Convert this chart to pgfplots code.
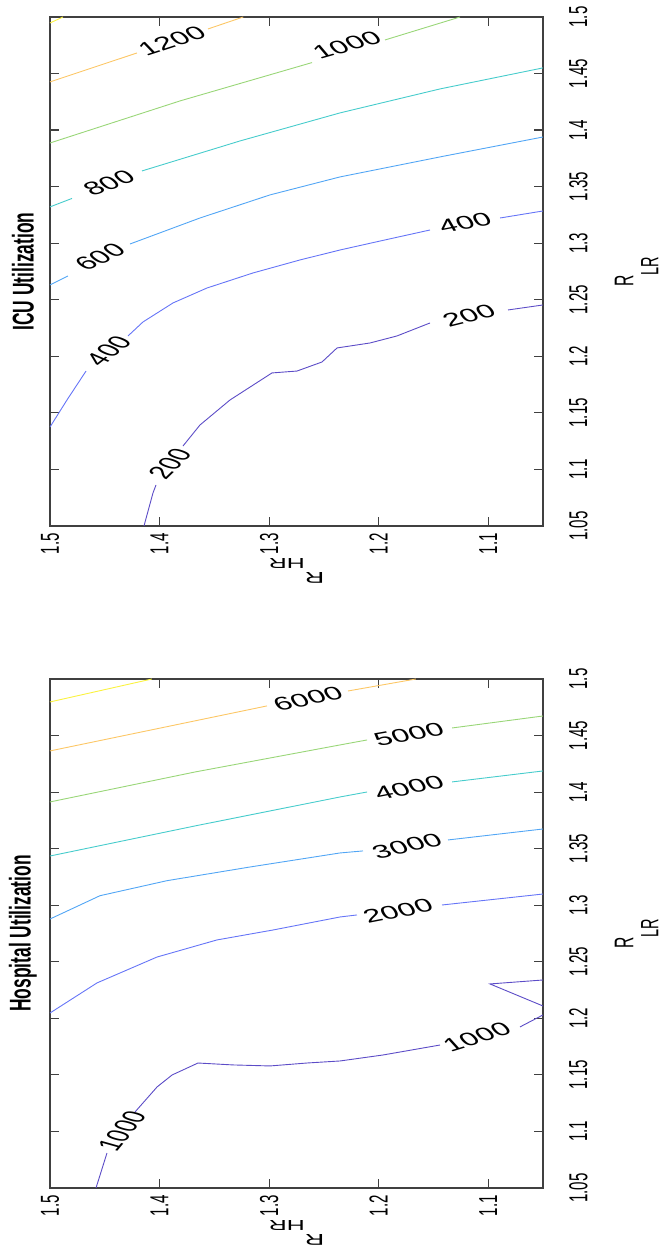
\documentclass[border=0pt]{standalone}
\usepackage{pgfplots}
\pgfplotsset{compat=1.18}
\usepackage{fontspec}
\setmainfont{Liberation Sans}
\definecolor{axc}{rgb}{0.25,0.25,0.25}
\definecolor{c1}{rgb}{0.36,0.30,0.78}
\definecolor{c2}{rgb}{0.40,0.46,0.97}
\definecolor{c3}{rgb}{0.32,0.65,0.96}
\definecolor{c4}{rgb}{0.28,0.80,0.80}
\definecolor{c5}{rgb}{0.60,0.84,0.47}
\definecolor{c6}{rgb}{0.99,0.78,0.40}
\definecolor{c7}{rgb}{0.98,0.95,0.25}
\newcommand{\tickfont}{\fontsize{26}{26}\selectfont}
\newcommand{\labfont}{\fontsize{27}{27}\selectfont}
\newcommand{\titfont}{\fontsize{30}{30}\selectfont\bfseries}
\tikzset{clab/.style={font=\fontsize{32}{32}\selectfont, inner sep=0pt, /tikz/yscale=0.58, /tikz/rotate=#1}}
\pgfplotsset{
  myax/.style={
    scale only axis, width=493pt, height=509pt,
    xmin=1.05, xmax=1.5, ymin=1.05, ymax=1.5, x dir=reverse,
    xtick={1.1,1.2,1.3,1.4,1.5}, xticklabels={1.1,1.2,1.3,1.4,1.5},
    ytick={1.05,1.1,1.15,1.2,1.25,1.3,1.35,1.4,1.45,1.5},
    yticklabels={1.05,1.1,1.15,1.2,1.25,1.3,1.35,1.4,1.45,1.5},
    yticklabel pos=right,
    tick align=inside, major tick length=9pt,
    tick style={line width=1.2pt, color=axc},
    axis line style={line width=1.6pt, color=axc},
    xticklabel style={font=\tickfont, /tikz/yshift=-7pt, /tikz/yscale=0.58, /tikz/rotate=90, anchor=east, inner sep=0pt},
    yticklabel style={font=\tickfont, /tikz/xshift=26pt, /tikz/yscale=0.58, /tikz/rotate=90, anchor=north, inner sep=0pt},
    xlabel={R\raisebox{-25pt}{\fontsize{25}{25}\selectfont HR}},
    ylabel={R\raisebox{-25pt}{\fontsize{25}{25}\selectfont LR}},
    every axis x label/.style={at={(axis description cs:0.5,-0.088)}, anchor=center, font=\labfont, inner sep=0pt, /tikz/yscale=0.58, /tikz/rotate=180},
    every axis y label/.style={at={(axis description cs:1.19,0.5)}, anchor=center, font=\labfont, inner sep=0pt, /tikz/yscale=0.58, /tikz/rotate=90},
    every axis title/.style={at={(axis description cs:-0.055,0.5)}, anchor=center, font=\titfont, inner sep=0pt, /tikz/yscale=0.58, /tikz/rotate=90},
    every axis plot/.append style={line width=0.9pt},
  }
}
\begin{document}
\begin{tikzpicture}
\path[use as bounding box] (0,0) rectangle (671pt,1247pt);
% ICU panel
\begin{axis}[myax, at={(50pt,721pt)}, anchor=south west, title={ICU Utilization}]
\addplot[c7] coordinates {(1.5,1.4947) (1.4881,1.5)};
\addplot[c6] coordinates {(1.5,1.4426) (1.4206,1.4682)};
\addplot[c6] coordinates {(1.3558,1.4894) (1.3236,1.5)};
\addplot[c5] coordinates {(1.5,1.3886) (1.3813,1.4258) (1.2608,1.4597)};
\addplot[c5] coordinates {(1.1942,1.4797) (1.1257,1.5)};
\addplot[c4] coordinates {(1.5,1.3321) (1.4799,1.3396)};
\addplot[c4] coordinates {(1.4160,1.3639) (1.3266,1.3904) (1.2353,1.4152) (1.1440,1.4364) (1.05,1.4550)};
\addplot[c3] coordinates {(1.5,1.2631) (1.4836,1.2710)};
\addplot[c3] coordinates {(1.4270,1.2993) (1.3631,1.3223) (1.2992,1.3427) (1.2353,1.3586) (1.1440,1.3763) (1.05,1.3939)};
\addplot[c2] coordinates {(1.5,1.1375) (1.4845,1.1614) (1.4671,1.1870)};
\addplot[c2] coordinates {(1.4288,1.2180) (1.4151,1.2304) (1.3877,1.2472) (1.3567,1.2604) (1.3147,1.2737) (1.2718,1.2852) (1.2353,1.2940) (1.1942,1.3029) (1.1531,1.3117)};
\addplot[c2] coordinates {(1.0892,1.3223) (1.05,1.3285)};
\addplot[c1] coordinates {(1.4142,1.05) (1.4060,1.0792) (1.4032,1.0863)};
\addplot[c1] coordinates {(1.3786,1.1207) (1.3631,1.1393) (1.3357,1.1614) (1.2974,1.1853) (1.2745,1.1870) (1.2517,1.1950) (1.2380,1.2074) (1.2079,1.2118) (1.1833,1.2180) (1.1531,1.2295)};
\addplot[c1] coordinates {(1.0819,1.2410) (1.05,1.2454)};
\node[clab=29.3] at (axis cs:1.3886,1.4788) {1200};
\node[clab=26.3] at (axis cs:1.2289,1.4753) {1000};
\node[clab=32.1] at (axis cs:1.4461,1.3533) {800};
\node[clab=38.8] at (axis cs:1.4544,1.2878) {600};
\node[clab=53.4] at (axis cs:1.4466,1.2047) {400};
\node[clab=18.5] at (axis cs:1.1212,1.3179) {400};
\node[clab=59.0] at (axis cs:1.3905,1.1048) {200};
\node[clab=23.3] at (axis cs:1.1175,1.2357) {200};
\end{axis}
% Hospital panel
\begin{axis}[myax, at={(50pt,59pt)}, anchor=south west, title={Hospital Utilization}]
\addplot[c7] coordinates {(1.5,1.4797) (1.407,1.5)};
\addplot[c6] coordinates {(1.5,1.4364) (1.3019,1.4762)};
\addplot[c6] coordinates {(1.2280,1.4894) (1.166,1.5)};
\addplot[c5] coordinates {(1.5,1.3913) (1.3676,1.4178) (1.2353,1.4417) (1.2106,1.4461)};
\addplot[c5] coordinates {(1.1330,1.4567) (1.05,1.4673)};
\addplot[c4] coordinates {(1.5,1.3435) (1.3676,1.3701) (1.2353,1.3957) (1.2106,1.4001)};
\addplot[c4] coordinates {(1.1330,1.4090) (1.05,1.4187)};
\addplot[c3] coordinates {(1.5,1.2878) (1.4544,1.3084) (1.3932,1.3217) (1.3174,1.3338) (1.2353,1.3462) (1.2143,1.3480)};
\addplot[c3] coordinates {(1.1367,1.3577) (1.05,1.3674)};
\addplot[c2] coordinates {(1.5,1.2047) (1.4571,1.2313) (1.4023,1.2542) (1.3476,1.2693) (1.2964,1.2781) (1.2353,1.2896) (1.2198,1.2914)};
\addplot[c2] coordinates {(1.1422,1.3002) (1.05,1.3099)};
\addplot[c1] coordinates {(1.4580,1.05) (1.4480,1.0809)};
\addplot[c1] coordinates {(1.4224,1.1172) (1.4023,1.1393) (1.3886,1.1499) (1.3649,1.1605) (1.3330,1.1588) (1.2992,1.1579) (1.2654,1.1605) (1.2353,1.1623) (1.1960,1.1676) (1.1440,1.1764)};
\addplot[c1] coordinates {(1.0710,1.1924) (1.05,1.2030)};
\addplot[c1] coordinates {(1.05,1.2339) (1.0984,1.2304) (1.05,1.2109)};
\node[clab=20.1] at (axis cs:1.2645,1.4824) {6000};
\node[clab=16.9] at (axis cs:1.1723,1.4514) {5000};
\node[clab=18.5] at (axis cs:1.1723,1.4037) {4000};
\node[clab=20.1] at (axis cs:1.1741,1.3524) {3000};
\node[clab=18.5] at (axis cs:1.1823,1.2949) {2000};
\node[clab=64.1] at (axis cs:1.4343,1.1004) {1000};
\node[clab=27.8] at (axis cs:1.1102,1.1835) {1000};
\end{axis}
\end{tikzpicture}
\end{document}
